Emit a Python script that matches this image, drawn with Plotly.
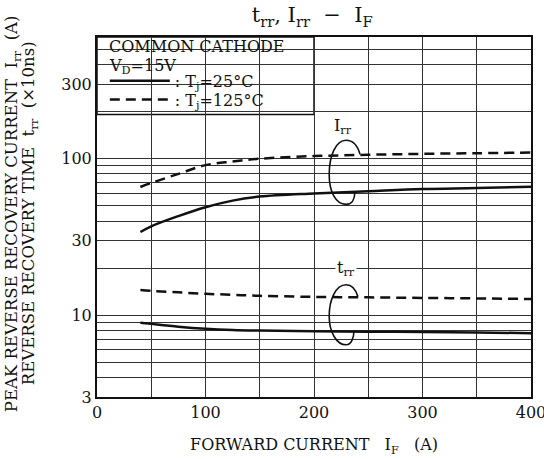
import plotly.graph_objects as go

# ---- data ----
IF = [40, 50, 75, 100, 125, 150, 200, 250, 300, 350, 400]
Irr_125 = [66, 70, 80, 91, 96, 100, 104, 106, 107.5, 108.5, 109.5]
Irr_25 = [34, 37, 43, 49, 54, 57.3, 60, 62, 64, 65, 66.3]
trr_125 = [14.5, 14.3, 14.0, 13.7, 13.5, 13.3, 13.1, 13.0, 12.9, 12.8, 12.7]
trr_25 = [8.95, 8.8, 8.45, 8.2, 8.05, 7.98, 7.9, 7.85, 7.8, 7.75, 7.68]

X_TICKS = [0, 100, 200, 300, 400]
X_MINOR = [50, 150, 250, 350]
Y_TICKS = [3, 10, 30, 100, 300]
Y_MINOR = [4, 5, 6, 7, 8, 9, 20, 40, 50, 60, 70, 80, 90, 200, 400, 500]

FONT = "DejaVu Serif"
BLACK = "#111111"
GRID = "#333333"
DASH = "10px,6px"

fig = go.Figure()

fig.add_trace(go.Scatter(x=IF, y=Irr_25, mode="lines", line=dict(color=BLACK, width=2.5, shape="spline"),
                         name=": T<sub>j</sub>=25°C", legend="legend", showlegend=True))
fig.add_trace(go.Scatter(x=IF, y=Irr_125, mode="lines", line=dict(color=BLACK, width=2.5, dash=DASH, shape="spline"),
                         name=": T<sub>j</sub>=125°C", legend="legend2", showlegend=True))
fig.add_trace(go.Scatter(x=IF, y=trr_25, mode="lines", line=dict(color=BLACK, width=2.5, shape="spline"),
                         showlegend=False))
fig.add_trace(go.Scatter(x=IF, y=trr_125, mode="lines", line=dict(color=BLACK, width=2.5, dash=DASH, shape="spline"),
                         showlegend=False))

# legend box (white panel covering the grid)
fig.add_shape(type="rect", xref="x", yref="paper", x0=0, x1=200, y0=0.785, y1=1,
              fillcolor="white", line=dict(color=BLACK, width=1.5), layer="between")

# loops around the curve pairs (paper coordinates)
loop_style = dict(type="path", xref="paper", yref="paper", line=dict(color=BLACK, width=1.6), layer="above")
fig.add_shape(path="M 0.606,0.674 C 0.600,0.700 0.590,0.713 0.574,0.713 C 0.550,0.713 0.535,0.670 0.535,0.618 "
                   "C 0.535,0.570 0.550,0.535 0.574,0.535 C 0.588,0.535 0.594,0.550 0.594,0.568", **loop_style)
fig.add_shape(path="M 0.601,0.279 C 0.596,0.300 0.588,0.312 0.574,0.312 C 0.550,0.312 0.535,0.270 0.535,0.225 "
                   "C 0.535,0.180 0.552,0.145 0.574,0.145 C 0.586,0.145 0.592,0.165 0.592,0.184", **loop_style)

ann_font = dict(family=FONT, size=16, color=BLACK)
fig.add_annotation(text="COMMON CATHODE", xref="paper", yref="paper", x=0.022, y=0.975,
                   xanchor="left", yanchor="middle", showarrow=False, font=ann_font)
fig.add_annotation(text="V<sub>D</sub>=15V", xref="paper", yref="paper", x=0.022, y=0.918,
                   xanchor="left", yanchor="middle", showarrow=False, font=ann_font)
fig.add_annotation(text="I<sub>rr</sub>", xref="paper", yref="paper", x=0.567, y=0.752,
                   xanchor="center", yanchor="middle", showarrow=False, font=ann_font, bgcolor="white")
fig.add_annotation(text="t<sub>rr</sub>", xref="paper", yref="paper", x=0.574, y=0.358,
                   xanchor="center", yanchor="middle", showarrow=False, font=ann_font, bgcolor="white")

# y-axis title, two lines
ytitle_font = dict(family=FONT, size=16.5, color=BLACK)
fig.add_annotation(text="PEAK REVERSE RECOVERY CURRENT  I<sub>rr</sub>  (A)",
                   xref="paper", yref="paper", x=-0.194, y=0.51, textangle=-90,
                   xanchor="center", yanchor="middle", showarrow=False, font=ytitle_font)
fig.add_annotation(text="REVERSE RECOVERY TIME  t<sub>rr</sub>  (×10ns)",
                   xref="paper", yref="paper", x=-0.155, y=0.51, textangle=-90,
                   xanchor="center", yanchor="middle", showarrow=False, font=ytitle_font)

tick_font = dict(family=FONT, size=16, color=BLACK)
fig.update_layout(
    width=544, height=459,
    margin=dict(l=97, r=13, t=37, b=62),
    paper_bgcolor="white", plot_bgcolor="white",
    font=dict(family=FONT, size=16, color=BLACK),
    title=dict(text="t<sub>rr</sub>,\u00a0I<sub>rr</sub>\u00a0\u00a0−\u00a0\u00a0I<sub>F</sub>", x=0.574, xanchor="center",
               y=0.967, yanchor="middle", font=dict(family=FONT, size=21, color=BLACK)),
    showlegend=True,
    legend=dict(x=0.018, y=0.878, xanchor="left", yanchor="middle", bgcolor="rgba(0,0,0,0)",
                font=dict(family=FONT, size=16, color=BLACK), itemwidth=60),
    legend2=dict(x=0.018, y=0.826, xanchor="left", yanchor="middle", bgcolor="rgba(0,0,0,0)",
                 font=dict(family=FONT, size=16, color=BLACK), itemwidth=60),
    xaxis=dict(range=[0, 400], tickmode="array", tickvals=X_TICKS, automargin=False,
               showgrid=True, gridcolor=GRID, gridwidth=1, zeroline=False,
               showline=True, linecolor=BLACK, linewidth=2, mirror=True, ticks="",
               tickfont=tick_font, ticklabeloverflow="allow",
               minor=dict(tickvals=X_MINOR, showgrid=True, gridcolor=GRID, gridwidth=1, ticks=""),
               title=dict(text="FORWARD CURRENT   I<sub>F</sub>   (A)", standoff=18,
                          font=dict(family=FONT, size=16, color=BLACK))),
    yaxis=dict(type="log", range=[0.47712, 2.77815], tickmode="array", tickvals=Y_TICKS, automargin=False,
               showgrid=True, gridcolor=GRID, gridwidth=1, zeroline=False,
               showline=True, linecolor=BLACK, linewidth=2, mirror=True, ticks="",
               tickfont=tick_font,
               minor=dict(tickvals=Y_MINOR, showgrid=True, gridcolor=GRID, gridwidth=1, ticks="")),
)

fig.write_html("out.html", config={"displayModeBar": False},
               post_script="document.body.style.margin='0';")
